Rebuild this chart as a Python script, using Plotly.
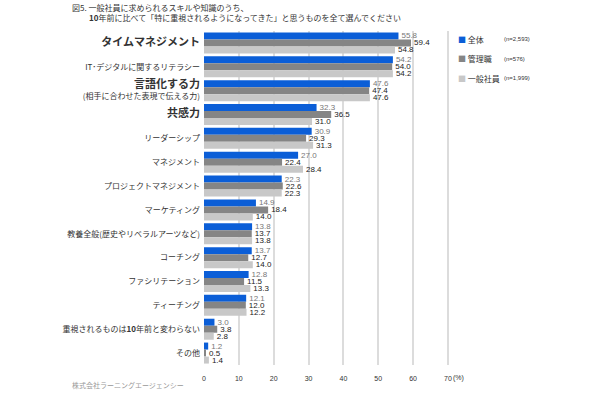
import plotly.graph_objects as go

categories = [
    "<b><span style='font-size:11px'>タイムマネジメント</span></b>",
    "IT･デジタルに関するリテラシー",
    "<b><span style='font-size:11px'>言語化する力</span></b><br>(相手に合わせた表現で伝える力)",
    "<b><span style='font-size:11px'>共感力</span></b>",
    "リーダーシップ",
    "マネジメント",
    "プロジェクトマネジメント",
    "マーケティング",
    "教養全般(歴史やリベラルアーツなど)",
    "コーチング",
    "ファシリテーション",
    "ティーチング",
    "重視されるものは<b>10</b>年前と変わらない",
    "その他",
]
all_vals = [55.8, 54.2, 47.6, 32.3, 30.9, 27.0, 22.3, 14.9, 13.8, 13.7, 12.8, 12.1, 3.0, 1.2]
mgr_vals = [59.4, 54.0, 47.4, 36.5, 29.3, 22.4, 22.6, 18.4, 13.7, 12.7, 11.5, 12.0, 3.8, 0.5]
emp_vals = [54.8, 54.2, 47.6, 31.0, 31.3, 28.4, 22.3, 14.0, 13.8, 14.0, 13.3, 12.2, 2.8, 1.4]
series_names = ["全体", "管理職", "一般社員"]
series_n = ["(n=2,593)", "(n=576)", "(n=1,999)"]
colors = ["#0b5ed7", "#858585", "#c8c8c8"]
label_colors = ["#777777", "#222222", "#222222"]
x_ticks = [0, 10, 20, 30, 40, 50, 60, 70]

FONT = "Noto Sans CJK JP"
fig = go.Figure()
for name, vals, c, lc in zip(series_names, [all_vals, mgr_vals, emp_vals], colors, label_colors):
    fig.add_trace(go.Bar(
        y=categories, x=vals, orientation="h", name=name,
        marker=dict(color=c, line=dict(width=0)),
        text=[f"{v:.1f}" for v in vals], textposition="outside",
        textfont=dict(size=8, color=lc, family="Arial"),
        constraintext="none", cliponaxis=False, showlegend=False,
    ))

fig.update_layout(
    width=600, height=400,
    margin=dict(l=204, r=151, t=31, b=35),
    paper_bgcolor="white", plot_bgcolor="white",
    barmode="group", bargap=0.12, bargroupgap=0,
    font=dict(family=FONT, size=8, color="#333333"),
    xaxis=dict(range=[0, 70.3], tickvals=x_ticks, showgrid=True, gridcolor="#dcdcdc",
               gridwidth=2, zeroline=False, showline=False,
               tickfont=dict(size=7, color="#333333", family="Arial"), ticks="",
               ticklabelstandoff=8),
    yaxis=dict(autorange="reversed", showgrid=False, zeroline=False, ticks="",
               tickfont=dict(size=8, color="#333333"), ticklabelstandoff=3),
)

# title
fig.add_annotation(xref="paper", yref="paper", x=-0.548, y=1.0, yshift=24, xanchor="left",
                   yanchor="middle", showarrow=False, align="left",
                   text="図5. 一般社員に求められるスキルや知識のうち、",
                   font=dict(size=8, color="#333333"))
fig.add_annotation(xref="paper", yref="paper", x=-0.476, y=1.0, yshift=14, xanchor="left",
                   yanchor="middle", showarrow=False, align="left",
                   text="<b>10</b>年前に比べて「特に重視されるようになってきた」と思うものを全て選んでください",
                   font=dict(size=8, color="#333333"))
# legend
for i, (name, n, c) in enumerate(zip(series_names, series_n, colors)):
    fig.add_annotation(xref="paper", yref="paper", x=1.03, y=1.0, yshift=-8 - i * 19.5,
                       xanchor="left", yanchor="middle", showarrow=False,
                       text=f"<span style='color:{c}'>■</span> {name}",
                       font=dict(size=8, color="#333333"))
    fig.add_annotation(xref="paper", yref="paper", x=1.215, y=1.0, yshift=-8 - i * 19.5,
                       xanchor="left", yanchor="middle", showarrow=False,
                       text=n, font=dict(size=6, color="#333333", family="Arial"))
# (%) unit
fig.add_annotation(xref="x", yref="paper", x=70, y=0, yshift=-13, xanchor="left",
                   xshift=3, yanchor="middle", showarrow=False, text="(%)",
                   font=dict(size=7, color="#333333", family="Arial"))
# footer
fig.add_annotation(xref="paper", yref="paper", x=-0.548, y=0, yshift=-20, xanchor="left",
                   yanchor="middle", showarrow=False, text="株式会社ラーニングエージェンシー",
                   font=dict(size=7, color="#999999"))

fig.write_html("out.html")
